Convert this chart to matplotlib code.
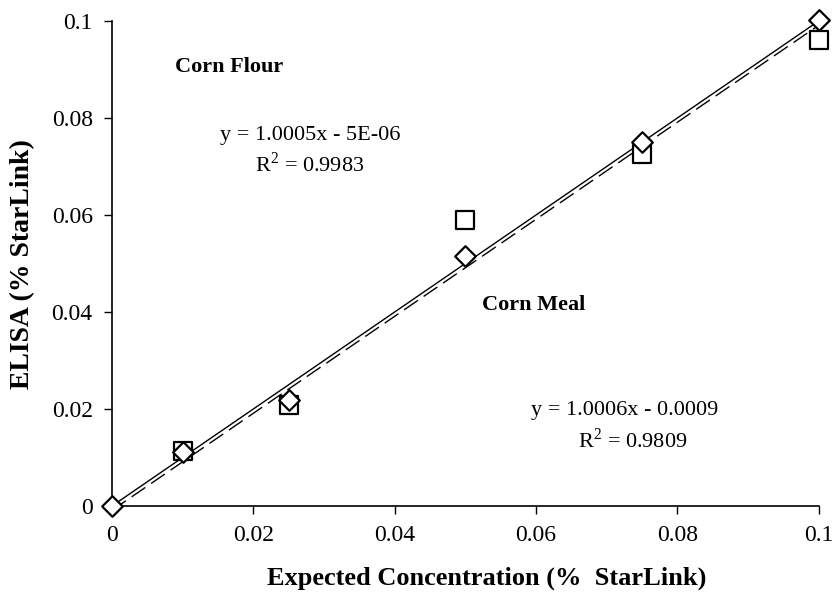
import numpy as np
import matplotlib
matplotlib.use("Agg")
import matplotlib.pyplot as plt

plt.rcParams['font.family'] = 'Liberation Serif'
plt.rcParams['mathtext.fontset'] = 'custom'
plt.rcParams['mathtext.rm'] = 'Liberation Serif'

# expected concentration (% StarLink)
flour_x = [0, 0.01, 0.025, 0.05, 0.075, 0.1]
meal_x = [0.01, 0.025, 0.05, 0.075, 0.1]
# ELISA results
flour = [0, 0.0111, 0.0219, 0.0515, 0.0751, 0.1003]
meal = [0.0113, 0.0208, 0.0590, 0.0726, 0.0962]

# trendline coefficients as printed on the chart
flour_fit = (1.0005, -5e-06, 0.9983)
meal_fit = (1.0006, -0.0009, 0.9809)

xticks = [0, 0.02, 0.04, 0.06, 0.08, 0.1]
tick_labels = ['0', '0.02', '0.04', '0.06', '0.08', '0.1']

fig = plt.figure(figsize=(8.37, 6.08), dpi=100)
ax = fig.add_axes([0.134, 0.168, 0.844, 0.797])

xl = np.array([0, 0.1])
ax.plot(xl, flour_fit[0] * xl + flour_fit[1], color='black', lw=1.0, zorder=2)
ax.plot(xl, meal_fit[0] * xl + meal_fit[1], color='black', lw=1.0,
        dashes=(12, 5), zorder=2)

ax.scatter(meal_x, meal, marker='s', s=150, facecolors='white',
           edgecolors='black', linewidths=1.6, zorder=3, clip_on=False)
ax.scatter(flour_x, flour, marker='D', s=110, facecolors='white',
           edgecolors='black', linewidths=1.6, zorder=4, clip_on=False)

ax.set_xlim(0, 0.1)
ax.set_ylim(0, 0.1)
ax.set_xticks(xticks)
ax.set_xticklabels(tick_labels)
ax.set_yticks(xticks)
ax.set_yticklabels(tick_labels)
ax.tick_params(labelsize=17, direction='out', length=6, width=1, pad=8)
ax.spines['top'].set_visible(False)
ax.spines['right'].set_visible(False)
for s in ('left', 'bottom'):
    ax.spines[s].set_linewidth(1.2)

ax.set_xlabel('Expected Concentration (%  StarLink)', fontsize=19,
              fontweight='bold')
ax.xaxis.set_label_coords(0.53, -0.125)
ax.set_ylabel('ELISA (% StarLink)', fontsize=20, fontweight='bold', labelpad=12)

ax.text(0.0165, 0.0905, 'Corn Flour', fontsize=16, fontweight='bold',
        ha='center', va='center')
ax.text(0.0280, 0.0765, 'y = %.4fx - 5E-06' % flour_fit[0], fontsize=16,
        ha='center', va='center')
ax.text(0.0280, 0.0705, 'R$^2$ = %.4f' % flour_fit[2], fontsize=16,
        ha='center', va='center')

ax.text(0.0596, 0.0415, 'Corn Meal', fontsize=16, fontweight='bold',
        ha='center', va='center')
ax.text(0.0725, 0.0197, 'y = %.4fx - %.4f' % (meal_fit[0], -meal_fit[1]),
        fontsize=16, ha='center', va='center')
ax.text(0.0737, 0.0135, 'R$^2$ = %.4f' % meal_fit[2], fontsize=16,
        ha='center', va='center')

fig.savefig('out.png', dpi=100)
